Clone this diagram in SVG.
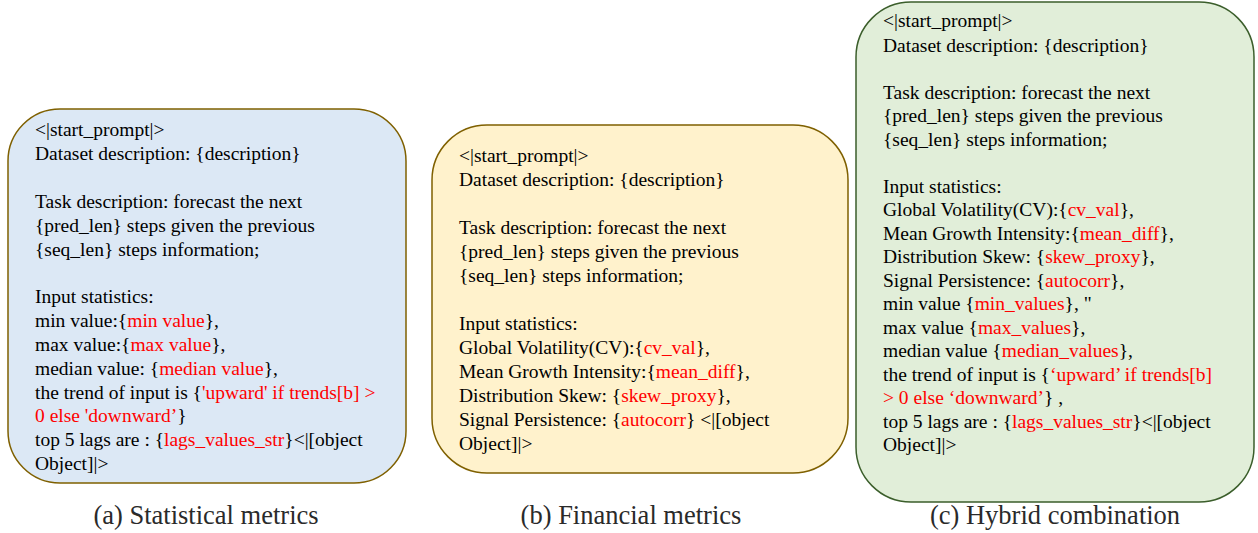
<svg xmlns="http://www.w3.org/2000/svg" width="1258" height="533" viewBox="0 0 1258 533" font-family="'Liberation Serif', 'DejaVu Serif', serif">
<style>
text{font-family:'Liberation Serif','DejaVu Serif',serif}
.t{font-size:19.5px;fill:#000}
.r{fill:#ff0000}
.cap{font-size:26.5px;fill:#2a2a2a;text-anchor:middle}
</style>
<rect width="1258" height="533" fill="#ffffff"/>
<g id="node-a">
<rect x="8" y="109" width="398" height="374" rx="52" ry="52" fill="#dce8f5" stroke="#7f6000" stroke-width="1.5"/>
<text class="t" x="35" y="136">&lt;|start_prompt|&gt;</text>
<text class="t" x="35" y="160">Dataset description: {description}</text>
<text class="t" x="35" y="208">Task description: forecast the next</text>
<text class="t" x="35" y="232">{pred_len} steps given the previous</text>
<text class="t" x="35" y="256">{seq_len} steps information;</text>
<text class="t" x="35" y="303">Input statistics:</text>
<text class="t" x="35" y="327">min value:{<tspan class="r">min value</tspan>},</text>
<text class="t" x="35" y="351">max value:{<tspan class="r">max value</tspan>},</text>
<text class="t" x="35" y="375">median value: {<tspan class="r">median value</tspan>},</text>
<text class="t" x="35" y="399">the trend of input is {<tspan class="r">'upward' if trends[b] &gt;</tspan></text>
<text class="t" x="35" y="422"><tspan class="r">0 else 'downward’</tspan>}</text>
<text class="t" x="35" y="446">top 5 lags are : {<tspan class="r">lags_values_str</tspan>}&lt;|[object</text>
<text class="t" x="35" y="470">Object]|&gt;</text>
</g>
<g id="node-b">
<rect x="432" y="125" width="416" height="348" rx="55" ry="55" fill="#fff2cc" stroke="#7f6000" stroke-width="1.5"/>
<text class="t" x="459" y="162">&lt;|start_prompt|&gt;</text>
<text class="t" x="459" y="186">Dataset description: {description}</text>
<text class="t" x="459" y="234">Task description: forecast the next</text>
<text class="t" x="459" y="258">{pred_len} steps given the previous</text>
<text class="t" x="459" y="282">{seq_len} steps information;</text>
<text class="t" x="459" y="330">Input statistics:</text>
<text class="t" x="459" y="354">Global Volatility(CV):{<tspan class="r">cv_val</tspan>},</text>
<text class="t" x="459" y="378">Mean Growth Intensity:{<tspan class="r">mean_diff</tspan>},</text>
<text class="t" x="459" y="402">Distribution Skew: {<tspan class="r">skew_proxy</tspan>},</text>
<text class="t" x="459" y="426">Signal Persistence: {<tspan class="r">autocorr</tspan>} &lt;|[object</text>
<text class="t" x="459" y="450">Object]|&gt;</text>
</g>
<g id="node-c">
<rect x="856" y="2" width="398" height="500" rx="55" ry="55" fill="#e1eed9" stroke="#3b5e2b" stroke-width="1.5"/>
<text class="t" x="883" y="27">&lt;|start_prompt|&gt;</text>
<text class="t" x="883" y="52">Dataset description: {description}</text>
<text class="t" x="883" y="99">Task description: forecast the next</text>
<text class="t" x="883" y="122">{pred_len} steps given the previous</text>
<text class="t" x="883" y="146">{seq_len} steps information;</text>
<text class="t" x="883" y="193">Input statistics:</text>
<text class="t" x="883" y="216">Global Volatility(CV):{<tspan class="r">cv_val</tspan>},</text>
<text class="t" x="883" y="240">Mean Growth Intensity:{<tspan class="r">mean_diff</tspan>},</text>
<text class="t" x="883" y="263">Distribution Skew: {<tspan class="r">skew_proxy</tspan>},</text>
<text class="t" x="883" y="287">Signal Persistence: {<tspan class="r">autocorr</tspan>},</text>
<text class="t" x="883" y="310">min value {<tspan class="r">min_values</tspan>}, "</text>
<text class="t" x="883" y="334">max value {<tspan class="r">max_values</tspan>},</text>
<text class="t" x="883" y="357">median value {<tspan class="r">median_values</tspan>},</text>
<text class="t" x="883" y="381">the trend of input is {<tspan class="r">‘upward’ if trends[b]</tspan></text>
<text class="t" x="883" y="404"><tspan class="r">&gt; 0 else ‘downward’</tspan>} ,</text>
<text class="t" x="883" y="428">top 5 lags are : {<tspan class="r">lags_values_str</tspan>}&lt;|[object</text>
<text class="t" x="883" y="451">Object]|&gt;</text>
</g>
<g id="connectors"></g>
<g id="captions">
<text class="cap" x="206" y="524">(a) Statistical metrics</text>
<text class="cap" x="631" y="524">(b) Financial metrics</text>
<text class="cap" x="1055" y="524">(c) Hybrid combination</text>
</g>
</svg>
